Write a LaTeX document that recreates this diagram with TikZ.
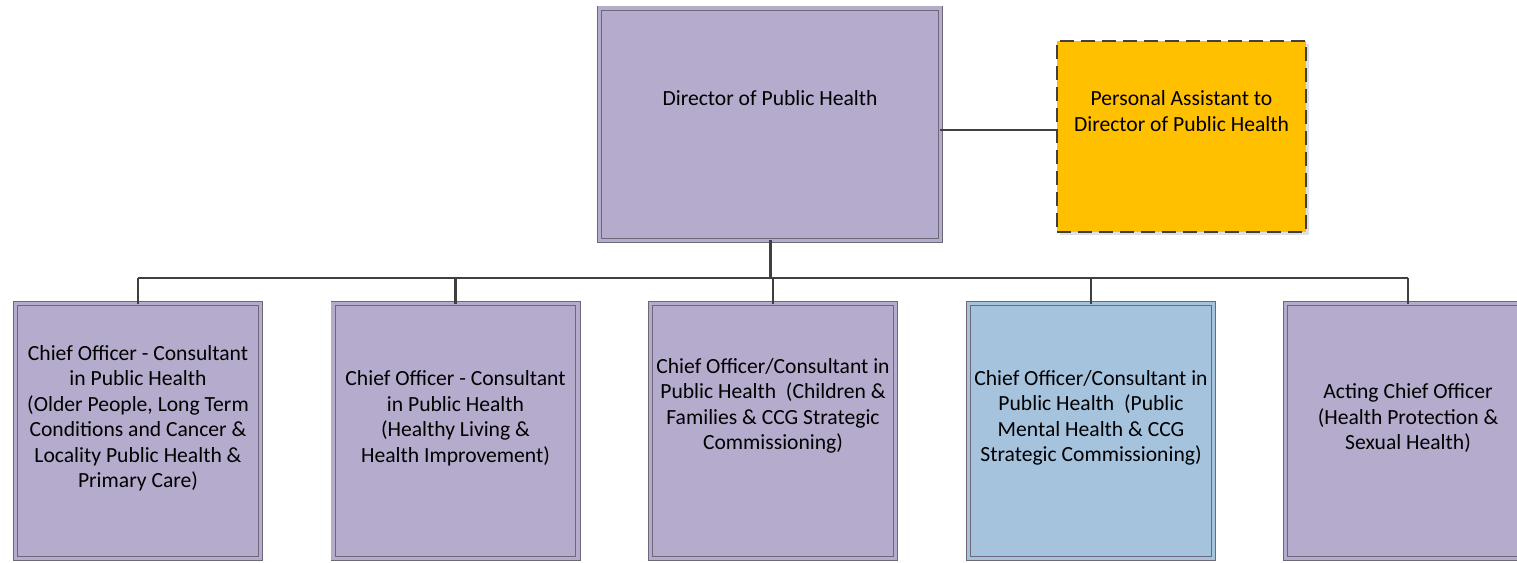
\documentclass[tikz,border=0pt]{standalone}
\usepackage{fontspec}
\setmainfont{Carlito}
\usetikzlibrary{shadows}
\definecolor{lilac}{HTML}{B5ABCD}
\definecolor{paleblue}{HTML}{A6C3DE}
\definecolor{amber}{HTML}{FFC000}
\definecolor{rim}{HTML}{6C6877}
\definecolor{wire}{HTML}{404040}
\begin{document}
\begin{tikzpicture}[x=1pt,y=-1pt,
  every node/.style={inner sep=0pt,outer sep=0pt},
  post/.style={rectangle,draw=rim,fill=#1,line width=0.9pt,double=#1,double distance=3.4pt,
    drop shadow={shadow xshift=3pt,shadow yshift=-3pt,fill=black!12,opacity=1}},
  unit/.style={post=#1,minimum width=244.8pt,minimum height=254.8pt},
  txt/.style={align=center,font=\fontsize{21.6}{25.5}\selectfont},
  wirestyle/.style={draw=wire,line width=2.4pt}]
\useasboundingbox (0,0) rectangle (1517,562);
\fill[white] (0,0) rectangle (1517,562);
% top of the chart
\node[post=lilac,minimum width=340.8pt,minimum height=232.3pt] (dph) at (770,124.3) {};
\node[txt] (dph-t) at (770,98) {Director of Public Health};
\node[rectangle,fill=amber,draw=wire,line width=2.6pt,dash pattern=on 14pt off 7pt,
  minimum width=249pt,minimum height=191pt,
  drop shadow={shadow xshift=3pt,shadow yshift=-3pt,fill=black!12,opacity=1}] (pa) at (1181.5,136.5) {};
\node[txt] (pa-t) at (1181.5,111) {Personal Assistant to\\Director of Public Health};
% row of chief officers
\node[unit=lilac] (b1) at (138,431) {};
\node[unit=lilac] (b2) at (455.5,431) {};
\node[unit=lilac] (b3) at (773,431) {};
\node[unit=paleblue] (b4) at (1091,431) {};
\node[unit=lilac] (b5) at (1408,431) {};
\node[txt] (b1-t) at (138,418) {Chief Officer - Consultant\\in Public Health\\(Older People, Long Term\\Conditions and Cancer \&\\Locality Public Health \&\\Primary Care)};
\node[txt] (b2-t) at (455.5,418) {Chief Officer - Consultant\\in Public Health\\(Healthy Living \&\\Health Improvement)};
\node[txt] (b3-t) at (773,406) {Chief Officer/Consultant in\\Public Health~ (Children \&\\Families \& CCG Strategic\\Commissioning)};
\node[txt] (b4-t) at (1091,418) {Chief Officer/Consultant in\\Public Health~ (Public\\Mental Health \& CCG\\Strategic Commissioning)};
\node[txt] (b5-t) at (1408,418) {Acting Chief Officer\\(Health Protection \&\\Sexual Health)};
% connectors
\coordinate (palink) at (1000,130);
\coordinate (bus) at (770,278);
\draw[wirestyle] (dph.east |- palink) -- (pa.west |- palink);
\draw[wirestyle,line width=3pt] (dph.south) -- (dph.south |- bus);
\draw[wirestyle] (b1.north |- bus) -- (b5.north |- bus);
\foreach \b in {b1,b2,b3,b4,b5}
  \draw[wirestyle] (\b.north |- bus) -- (\b.north);
\end{tikzpicture}
\end{document}
